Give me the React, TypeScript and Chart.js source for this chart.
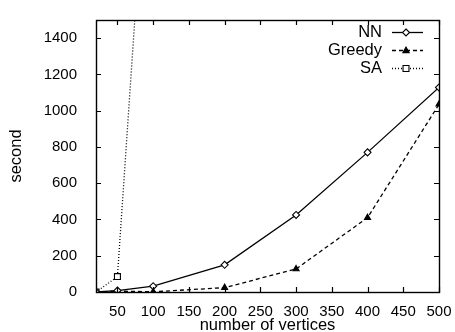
import React, { useEffect, useRef } from "react";
import { Chart, registerables } from "chart.js";

Chart.register(...registerables);

const vertices = [20, 50, 100, 200, 300, 400, 500];
const nnSeconds = [0, 8, 32, 150, 425, 770, 1128];
const greedySeconds = [0, 5, 1, 24, 127, 410, 1035];
const saVertices = [20, 50, 100];
const saSeconds = [0, 85, 3000];
const xTicks = [50, 100, 150, 200, 250, 300, 350, 400, 450, 500];
const yTicks = [0, 200, 400, 600, 800, 1000, 1200, 1400];
const seriesNames = ["NN", "Greedy", "SA"];

const FONT = '"Liberation Sans", Arial, Helvetica, sans-serif';

function marker(ctx: CanvasRenderingContext2D, style: string, x: number, y: number, r: number, fill: string) {
  ctx.beginPath();
  if (style === "rectRot") {
    ctx.moveTo(x, y - r);
    ctx.lineTo(x + r, y);
    ctx.lineTo(x, y + r);
    ctx.lineTo(x - r, y);
    ctx.closePath();
  } else if (style === "triangle") {
    ctx.moveTo(x, y - r);
    ctx.lineTo(x + r * 0.9, y + r * 0.6);
    ctx.lineTo(x - r * 0.9, y + r * 0.6);
    ctx.closePath();
  } else {
    const s = r * Math.SQRT1_2;
    ctx.rect(x - s, y - s, 2 * s, 2 * s);
  }
  ctx.fillStyle = fill;
  ctx.fill();
  ctx.stroke();
}

const boxPlugin = {
  id: "boxPlugin",
  afterDatasetsDraw(chart: any) {
    const { ctx, chartArea: a } = chart;
    const xs = chart.scales.x;
    const ys = chart.scales.y;
    ctx.save();
    ctx.strokeStyle = "#000";
    ctx.lineWidth = 1.4;
    ctx.setLineDash([]);
    ctx.strokeRect(a.left + 0.5, a.top + 0.5, a.right - a.left, a.bottom - a.top);
    ctx.lineWidth = 1.2;
    const tl = 5;
    ctx.beginPath();
    xTicks.forEach((v) => {
      const px = Math.round(xs.getPixelForValue(v)) + 0.5;
      ctx.moveTo(px, a.bottom);
      ctx.lineTo(px, a.bottom - tl);
      ctx.moveTo(px, a.top);
      ctx.lineTo(px, a.top + tl);
    });
    yTicks.forEach((v) => {
      const py = Math.round(ys.getPixelForValue(v)) + 0.5;
      ctx.moveTo(a.left, py);
      ctx.lineTo(a.left + tl, py);
      ctx.moveTo(a.right, py);
      ctx.lineTo(a.right - tl, py);
    });
    ctx.stroke();

    // legend
    const rows = [
      { name: seriesNames[0], dash: [] as number[], style: "rectRot", fill: "#fff", r: 3.5 },
      { name: seriesNames[1], dash: [4, 3], style: "triangle", fill: "#000", r: 3.5 },
      { name: seriesNames[2], dash: [1, 2], style: "rect", fill: "#fff", r: 4.2 },
    ];
    ctx.font = "16.5px " + FONT;
    ctx.textAlign = "right";
    ctx.textBaseline = "middle";
    rows.forEach((row, i) => {
      const y = 32 + i * 18;
      ctx.fillStyle = "#000";
      ctx.fillText(row.name, 382, y);
      ctx.lineWidth = 1.3;
      ctx.beginPath();
      ctx.setLineDash(row.dash);
      ctx.moveTo(392, y + 0.5);
      ctx.lineTo(423, y + 0.5);
      ctx.stroke();
      ctx.setLineDash([]);
      ctx.lineWidth = 1.1;
      marker(ctx, row.style, 406, y + 0.5, row.r, row.fill);
    });
    ctx.restore();
  },
};

export default function App() {
  const ref = useRef<HTMLCanvasElement>(null);
  useEffect(() => {
    const mk = (xsArr: number[], ysArr: number[]) => xsArr.map((x, i) => ({ x, y: ysArr[i] }));
    const chart = new Chart(ref.current!, {
      type: "line",
      data: {
        datasets: [
          {
            label: seriesNames[0],
            data: mk(vertices, nnSeconds),
            borderColor: "#000",
            borderWidth: 1.3,
            backgroundColor: "#fff",
            pointStyle: "rectRot",
            pointRadius: 3.5,
            pointBorderColor: "#000",
            pointBackgroundColor: "#fff",
            pointBorderWidth: 1.1,
          },
          {
            label: seriesNames[1],
            data: mk(vertices, greedySeconds),
            borderColor: "#000",
            borderWidth: 1.3,
            borderDash: [4, 3],
            pointStyle: "triangle",
            pointRadius: 3.5,
            pointBorderColor: "#000",
            pointBackgroundColor: "#000",
            pointBorderWidth: 1.1,
          },
          {
            label: seriesNames[2],
            data: mk(saVertices, saSeconds),
            borderColor: "#000",
            borderWidth: 1.3,
            borderDash: [1, 2],
            pointStyle: "rect",
            pointRadius: 4.2,
            pointBorderColor: "#000",
            pointBackgroundColor: "#fff",
            pointBorderWidth: 1.1,
          },
        ],
      },
      options: {
        animation: false,
        responsive: false,
        events: [],
        layout: { padding: { top: 12, right: 16, left: 0, bottom: 0 } },
        plugins: {
          legend: { display: false },
          tooltip: { enabled: false },
        },
        scales: {
          x: {
            type: "linear",
            min: 20,
            max: 500,
            grid: { display: false },
            border: { display: false },
            afterBuildTicks: (s: any) => {
              s.ticks = xTicks.map((v) => ({ value: v }));
            },
            afterFit: (s: any) => {
              s.height = 40;
            },
            ticks: {
              color: "#000",
              font: { family: FONT, size: 15 },
              padding: 3,
              maxRotation: 0,
              autoSkip: false,
              callback: (v: any) => String(v),
            },
            title: {
              display: true,
              text: "number of vertices",
              color: "#000",
              font: { family: FONT, size: 16.5 },
              padding: { top: 0, bottom: -3.5 },
            },
          },
          y: {
            type: "linear",
            min: 0,
            max: 1500,
            grid: { display: false },
            border: { display: false },
            afterBuildTicks: (s: any) => {
              s.ticks = yTicks.map((v) => ({ value: v }));
            },
            afterFit: (s: any) => {
              s.width = 96;
            },
            ticks: {
              color: "#000",
              font: { family: FONT, size: 15 },
              padding: 11,
              autoSkip: false,
              callback: (v: any) => String(v),
            },
            title: {
              display: true,
              text: "second",
              color: "#000",
              font: { family: FONT, size: 16.5 },
              padding: { top: 6.6, bottom: 0 },
            },
          },
        },
      },
      plugins: [boxPlugin],
    } as any);
    return () => chart.destroy();
  }, []);

  return (
    <div style={{ position: "absolute", left: 0, top: 0, width: 455, height: 332 }}>
      <canvas ref={ref} width={455} height={332} style={{ display: "block" }} />
    </div>
  );
}
